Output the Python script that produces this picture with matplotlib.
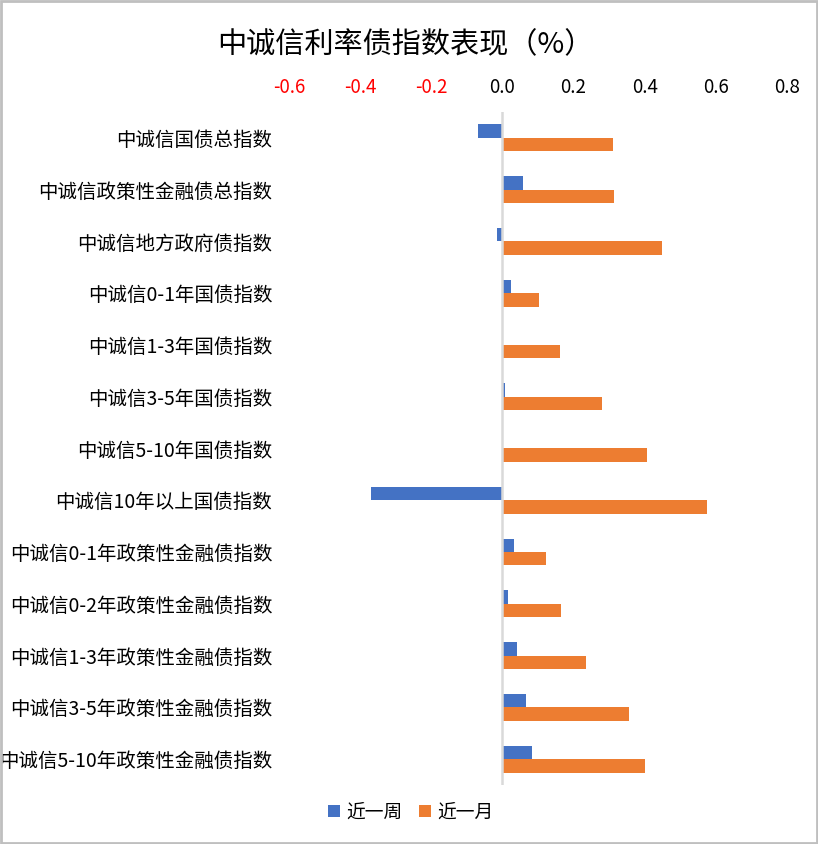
import matplotlib
matplotlib.use("Agg")
import matplotlib.pyplot as plt
from matplotlib.patches import Rectangle
import numpy as np

plt.rcParams['font.family'] = ['Noto Sans CJK SC', 'DejaVu Sans']

categories = [
    "中诚信国债总指数",
    "中诚信政策性金融债总指数",
    "中诚信地方政府债指数",
    "中诚信0-1年国债指数",
    "中诚信1-3年国债指数",
    "中诚信3-5年国债指数",
    "中诚信5-10年国债指数",
    "中诚信10年以上国债指数",
    "中诚信0-1年政策性金融债指数",
    "中诚信0-2年政策性金融债指数",
    "中诚信1-3年政策性金融债指数",
    "中诚信3-5年政策性金融债指数",
    "中诚信5-10年政策性金融债指数",
]
week = [-0.070, 0.059, -0.016, 0.023, 0.0, 0.008, 0.003, -0.370, 0.032, 0.015, 0.041, 0.066, 0.083]
month = [0.311, 0.314, 0.448, 0.103, 0.163, 0.280, 0.406, 0.575, 0.122, 0.165, 0.235, 0.356, 0.401]
xticks = [-0.6, -0.4, -0.2, 0.0, 0.2, 0.4, 0.6, 0.8]
series_names = ["近一周", "近一月"]
title = "中诚信利率债指数表现（%）"

W, H = 818, 844
L, R, T, B = 289, 787, 112, 785
fig = plt.figure(figsize=(W/100, H/100), dpi=100)
ax = fig.add_axes([L/W, 1-B/H, (R-L)/W, (B-T)/H])

y = np.arange(len(categories))
h = 0.26
ax.barh(y - h/2, week, height=h, color="#4472C4", label=series_names[0], zorder=2)
ax.barh(y + h/2, month, height=h, color="#ED7D31", label=series_names[1], zorder=2)

ax.set_xlim(-0.6, 0.8)
ax.set_ylim(len(categories) - 0.5, -0.5)
ax.axvline(0, color="#d9d9d9", lw=1.8, zorder=3)

for s in ax.spines.values():
    s.set_visible(False)

ax.set_yticks(y)
ax.set_yticklabels(categories, fontsize=14, color="#000000")
ax.tick_params(axis='y', length=0, pad=12)

ax.xaxis.tick_top()
ax.set_xticks(xticks)
ax.set_xticklabels([f"{v:.1f}" for v in xticks], fontsize=13.5)
for lab, v in zip(ax.get_xticklabels(), xticks):
    lab.set_color("#ff0000" if v < 0 else "#000000")
ax.tick_params(axis='x', length=0, pad=10)

fig.text(405/W, 1-45/H, title, fontsize=21, ha='center', va='center', color="#000000")

leg = fig.legend(loc='center', bbox_to_anchor=(411/W, 1-812/H), ncol=2, frameon=False,
                 fontsize=13.5, handlelength=0.6, handleheight=0.6, handletextpad=0.35,
                 columnspacing=0.9)

fig.patches.append(Rectangle((0.001, 0.001), 0.998, 0.998, transform=fig.transFigure,
                             fill=False, edgecolor="#bfbfbf", lw=2))

fig.savefig("out.png", dpi=100)
